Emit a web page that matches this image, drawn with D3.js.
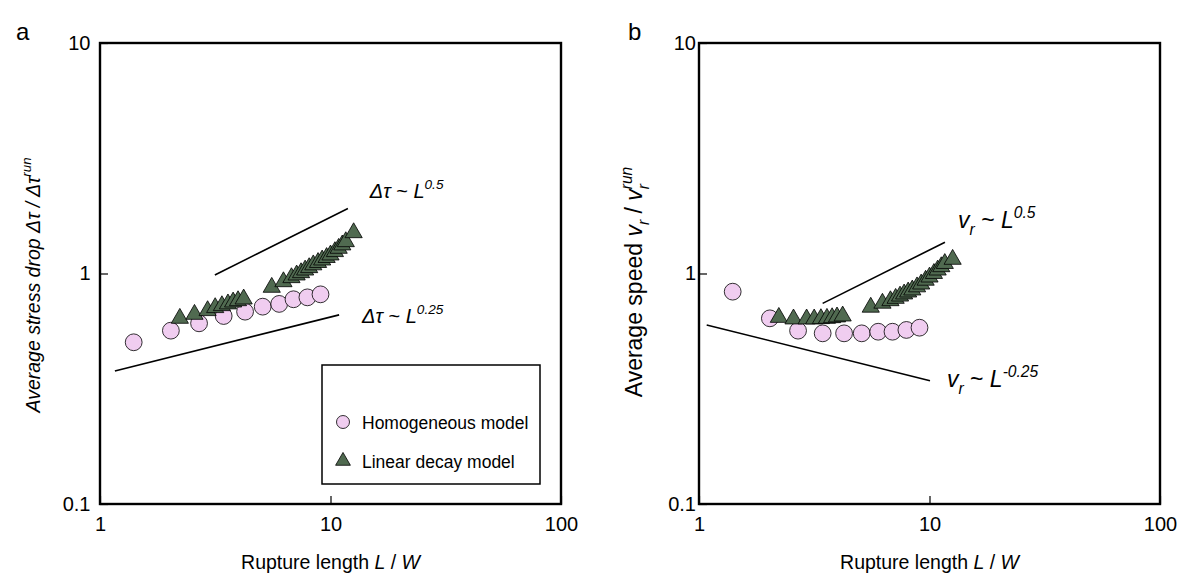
<!DOCTYPE html>
<html>
<head>
<meta charset="utf-8">
<script src="https://cdn.jsdelivr.net/npm/d3@7"></script>
<style>
  body { margin: 0; background: #fff; }
  svg { display: block; }
  text { font-family: "Liberation Sans", Arial, Helvetica, sans-serif; fill: #000; }
</style>
</head>
<body>
<svg id="chart" width="1187" height="579"></svg>
<script>
// Homogeneous model runs: rupture length L/W and normalised averages
const homogeneousL = [1.40, 2.03, 2.69, 3.44, 4.26, 5.08, 5.99, 6.91, 7.94, 9.05];
const homogeneousStressDrop = [0.503, 0.565, 0.608, 0.654, 0.683, 0.718, 0.738, 0.773, 0.788, 0.812];
const homogeneousSpeed = [0.834, 0.639, 0.565, 0.550, 0.550, 0.550, 0.559, 0.559, 0.569, 0.582];

// Linear decay model runs
const linearDecayL = [2.22, 2.57, 2.93, 3.16, 3.38, 3.59, 3.78, 3.97, 4.20, 5.56, 6.25, 6.77, 7.13,
  7.45, 7.76, 8.08, 8.42, 8.83, 9.20, 9.62, 10.0, 10.45, 10.85, 11.25, 11.65, 12.6];
const linearDecayStressDrop = [0.639, 0.665, 0.690, 0.711, 0.725, 0.738, 0.752, 0.762, 0.775, 0.871,
  0.921, 0.959, 0.985, 1.008, 1.035, 1.060, 1.090, 1.116, 1.144, 1.173, 1.203, 1.244, 1.286, 1.330,
  1.374, 1.503];
const linearDecaySpeed = [0.645, 0.635, 0.635, 0.635, 0.637, 0.639, 0.643, 0.648, 0.654, 0.714,
  0.743, 0.762, 0.780, 0.798, 0.815, 0.831, 0.848, 0.875, 0.900, 0.935, 0.965, 1.000, 1.035, 1.070,
  1.105, 1.152];

// Axis ticks
const xTickValues = [1, 10, 100];
const yTickValues = [0.1, 1, 10];
const xTickLabels = ["1", "10", "100"];
const yTickLabels = ["0.1", "1", "10"];

// Power-law guides: [prefactor, exponent, L start, L end]
const stressGuideSteep = [0.555, 0.5, 3.15, 11.9];
const stressGuideShallow = [0.364, 0.25, 1.16, 10.9];
const speedGuideSteep = [0.400, 0.5, 3.44, 11.67];
const speedGuideFalling = [0.610, -0.25, 1.08, 10.05];

const seriesColors = { homogeneous: "#f0cdf0", linearDecay: "#506a50" };

const svg = d3.select("#chart");
const plotSize = 461;
const plotTop = 43;

function makePanel(left, labelPad) {
  const x = d3.scaleLog().domain([1, 100]).range([left, left + plotSize]);
  const y = d3.scaleLog().domain([0.1, 10]).range([plotTop + plotSize, plotTop]);
  const g = svg.append("g");

  const xAxis = d3.axisBottom(x).tickValues(xTickValues)
    .tickFormat((d, i) => xTickLabels[i]).tickSizeInner(-8).tickSizeOuter(0).tickPadding(13);
  const gx = g.append("g").attr("transform", `translate(0,${plotTop + plotSize})`).call(xAxis);
  const yAxis = d3.axisLeft(y).tickValues(yTickValues)
    .tickFormat((d, i) => yTickLabels[i]).tickSizeInner(-8).tickSizeOuter(0).tickPadding(labelPad);
  const gy = g.append("g").attr("transform", `translate(${left},0)`).call(yAxis);
  [gx, gy].forEach(a => {
    a.select(".domain").remove();
    a.selectAll("text").style("font-size", "20px").attr("fill", "#000");
    a.selectAll("line").attr("stroke", "#000").attr("stroke-width", 1.2);
  });

  g.append("rect").attr("x", left).attr("y", plotTop).attr("width", plotSize).attr("height", plotSize)
    .attr("fill", "none").attr("stroke", "#000").attr("stroke-width", 2.4);
  return { g, x, y };
}

function drawGuide(p, guide) {
  const [c, k, l0, l1] = guide;
  p.g.append("line")
    .attr("x1", p.x(l0)).attr("y1", p.y(c * Math.pow(l0, k)))
    .attr("x2", p.x(l1)).attr("y2", p.y(c * Math.pow(l1, k)))
    .attr("stroke", "#000").attr("stroke-width", 1.6);
}

function drawSeries(p, ls, vals, kind) {
  const pts = ls.map((l, i) => [l, vals[i]]);
  if (kind === "circle") {
    p.g.append("g").selectAll("circle").data(pts).join("circle")
      .attr("cx", d => p.x(d[0])).attr("cy", d => p.y(d[1])).attr("r", 8.4)
      .attr("fill", seriesColors.homogeneous).attr("stroke", "#000").attr("stroke-width", 0.8);
  } else {
    const tri = d3.symbol().type(d3.symbolTriangle).size(128);
    p.g.append("g").selectAll("path").data(pts).join("path")
      .attr("transform", d => `translate(${p.x(d[0])},${p.y(d[1])})`)
      .attr("d", tri)
      .attr("fill", seriesColors.linearDecay).attr("stroke", "#000").attr("stroke-width", 0.8);
  }
}

// Rich text helper: segments of {t, it, sub, sup, dx}
function richText(parent, x, y, segs, fontSize, opts = {}) {
  const t = parent.append("text").attr("x", x).attr("y", y)
    .style("font-size", fontSize + "px");
  if (opts.anchor) t.attr("text-anchor", opts.anchor);
  if (opts.transform) t.attr("transform", opts.transform);
  let shift = 0;
  segs.forEach(s => {
    const sp = t.append("tspan").text(s.t);
    if (s.it) sp.style("font-style", "italic");
    let target = 0;
    if (s.sub) target = fontSize * 0.32;
    if (s.sup) target = -fontSize * 0.45;
    sp.attr("dy", target - shift);
    shift = target;
    if (s.sub || s.sup) sp.style("font-size", (fontSize * 0.68) + "px");
    if (s.dx) sp.attr("dx", s.dx);
  });
  return t;
}

// Panel a: stress drop
const pa = makePanel(100, 9.5);
drawGuide(pa, stressGuideSteep);
drawGuide(pa, stressGuideShallow);
drawSeries(pa, homogeneousL, homogeneousStressDrop, "circle");
drawSeries(pa, linearDecayL, linearDecayStressDrop, "triangle");

richText(svg, pa.x(14.8), pa.y(2.13), [
  { t: "Δτ", it: true }, { t: " ~ " }, { t: "L", it: true }, { t: "0.5", it: true, sup: true }
], 20);
richText(svg, pa.x(13.7), pa.y(0.61), [
  { t: "Δτ", it: true }, { t: " ~ " }, { t: "L", it: true }, { t: "0.25", it: true, sup: true }
], 20);

// Legend
const lg = svg.append("g");
lg.append("rect").attr("x", 322).attr("y", 365).attr("width", 218).attr("height", 119)
  .attr("fill", "#fff").attr("stroke", "#000").attr("stroke-width", 1.5);
lg.append("circle").attr("cx", 343).attr("cy", 422).attr("r", 6.5)
  .attr("fill", seriesColors.homogeneous).attr("stroke", "#000").attr("stroke-width", 0.8);
lg.append("path").attr("transform", "translate(343,461)")
  .attr("d", d3.symbol().type(d3.symbolTriangle).size(95))
  .attr("fill", seriesColors.linearDecay).attr("stroke", "#000").attr("stroke-width", 0.8);
lg.append("text").attr("x", 362).attr("y", 428.5).style("font-size", "17.5px").text("Homogeneous model");
lg.append("text").attr("x", 362).attr("y", 468).style("font-size", "17.5px").text("Linear decay model");

// Panel b: rupture speed
const pb = makePanel(699, 3);
drawGuide(pb, speedGuideSteep);
drawGuide(pb, speedGuideFalling);
drawSeries(pb, homogeneousL, homogeneousSpeed, "circle");
drawSeries(pb, linearDecayL, linearDecaySpeed, "triangle");

richText(svg, pb.x(13.3), pb.y(1.575), [
  { t: "v", it: true }, { t: "r", it: true, sub: true }, { t: " ~ " }, { t: "L", it: true },
  { t: "0.5", it: true, sup: true }
], 23);
richText(svg, pb.x(11.9), pb.y(0.322), [
  { t: "v", it: true }, { t: "r", it: true, sub: true }, { t: " ~ " }, { t: "L", it: true },
  { t: "-0.25", it: true, sup: true }
], 23);

// Axis titles
[pa, pb].forEach(p => {
  richText(svg, p.x(10), 569, [
    { t: "Rupture length " }, { t: "L", it: true }, { t: " / " }, { t: "W", it: true }
  ], 19.5, { anchor: "middle" });
});

richText(svg, 0, 0, [
  { t: "Average stress drop Δτ / Δτ", it: true }, { t: "run", it: true, sup: true }
], 19.5, { anchor: "middle", transform: "translate(40,285) rotate(-90)" });

richText(svg, 0, 0, [
  { t: "Average speed " }, { t: "v", it: true }, { t: "r", it: true, sub: true },
  { t: " / " }, { t: "v", it: true }, { t: "r", it: true, sub: true },
  { t: "run", it: true, sup: true, dx: -5.3 }
], 23, { anchor: "middle", transform: "translate(642,282) rotate(-90)" });

// Panel letters
svg.append("text").attr("x", 16).attr("y", 40).style("font-size", "24px").text("a");
svg.append("text").attr("x", 628).attr("y", 40).style("font-size", "24px").text("b");
</script>
</body>
</html>
